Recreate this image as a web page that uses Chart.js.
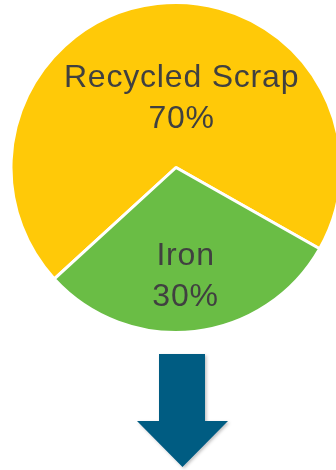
<!DOCTYPE html>
<html lang="en">
  <head>
    <meta charset="UTF-8" />
    <title>Steel Feedstock</title>
    <style>
      html,
      body {
        margin: 0;
        padding: 0;
        width: 336px;
        height: 470px;
        overflow: hidden;
        background: #ffffff;
      }
      .pie-wrap {
        position: absolute;
        left: 0;
        top: 1px;
        width: 352px;
        height: 333px;
      }
      .arrow {
        position: absolute;
        left: 0;
        top: 0;
      }
    </style>
  </head>
  <body>
    <div class="pie-wrap">
      <canvas id="feedChart"></canvas>
    </div>
    <svg class="arrow" width="336" height="470">
      <defs>
        <filter id="soft" x="-20%" y="-20%" width="140%" height="140%">
          <feDropShadow dx="1.5" dy="1.5" stdDeviation="1.5" flood-color="#000" flood-opacity="0.25" />
        </filter>
      </defs>
      <polygon
        points="159,354 205,354 205,421 228,421 182.5,467 137,421 159,421"
        fill="#035b82"
        filter="url(#soft)"
      />
    </svg>

    <script src="https://cdn.jsdelivr.net/npm/chart.js"></script>
    <script>
      const categories = ['Recycled Scrap', 'Iron'];
      const shares = [70, 30];
      const sliceColors = ['#ffc908', '#6abd45'];

      // label block anchors, as fractions of the radius from the centre
      const labelAnchors = [
        [0.034, -0.433],
        [0.058, 0.643],
      ];

      const sliceLabels = {
        id: 'sliceLabels',
        afterDatasetsDraw(chart) {
          const ctx = chart.ctx;
          const arcs = chart.getDatasetMeta(0).data;
          const size = 32;
          const lineGap = 41;
          ctx.save();
          ctx.font = size + 'px "Liberation Sans", Arial, sans-serif';
          ctx.fillStyle = '#404040';
          ctx.textAlign = 'center';
          ctx.textBaseline = 'alphabetic';
          ctx.letterSpacing = '0.8px';
          arcs.forEach((arc, i) => {
            const r = arc.outerRadius;
            const cx = arc.x + labelAnchors[i][0] * r;
            const cy = arc.y + labelAnchors[i][1] * r;
            const capHalf = size * 0.358;
            const first = cy - lineGap / 2 + capHalf;
            ctx.fillText(categories[i], cx, first);
            ctx.fillText(shares[i] + '%', cx, first + lineGap);
          });
          ctx.restore();
        },
      };

      new Chart(document.getElementById('feedChart'), {
        type: 'pie',
        data: {
          labels: categories,
          datasets: [
            {
              data: shares,
              backgroundColor: sliceColors,
              borderColor: '#ffffff',
              borderWidth: 3,
            },
          ],
        },
        options: {
          responsive: true,
          maintainAspectRatio: false,
          animation: false,
          rotation: 227.5,
          layout: { padding: 0 },
          plugins: {
            legend: { display: false },
            tooltip: { enabled: false },
          },
        },
        plugins: [sliceLabels],
      });
    </script>
  </body>
</html>
